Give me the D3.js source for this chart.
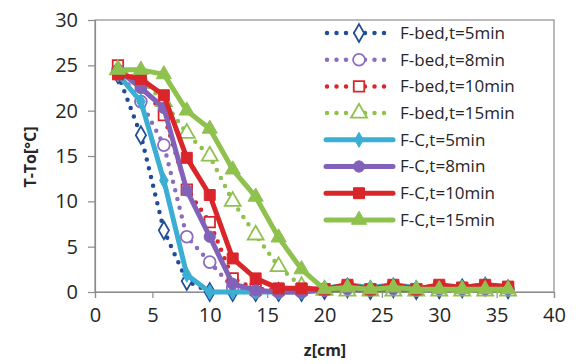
<!DOCTYPE html>
<html><head><meta charset="utf-8">
<script src="https://cdn.jsdelivr.net/npm/d3@7"></script>
<style>
html,body{margin:0;padding:0;background:#fff;}
svg{display:block;font-family:"Open Sans",sans-serif;}
</style></head>
<body><svg id="c" width="576" height="364"></svg>
<script>
const z = [2,4,6,8,10,12,14,16,18,20,22,24,26,28,30,32,34,36];
const fbed5  = [24, 17.3, 6.8, 1.2, 0, 0, 0, 0, 0, 0.2, 0.4, 0.2, 0.4, 0.2, 0.3, 0.4, 0.6, 0.3];
const fbed8  = [24.5, 21, 16.2, 6.1, 3.3, 0.5, 0, 0, 0, 0.2, 0.4, 0.2, 0.4, 0.2, 0.3, 0.4, 0.4, 0.3];
const fbed10 = [25, 23, 19.5, 11.3, 7.7, 1.5, 0.3, 0.3, 0.3, 0.3, 0.5, 0.3, 0.5, 0.3, 0.5, 0.4, 0.5, 0.5];
const fbed15 = [24.5, 23.5, 21, 17.5, 15, 10, 6.3, 2.8, 0.6, 0.2, 0.1, 0.1, 0.1, 0.1, 0.1, 0.1, 0.1, 0.1];
const fc5  = [24, 21, 12.3, 1.9, 0, 0, 0, 0, 0, 0.4, 0.8, 0.5, 0.8, 0.5, 0.5, 0.5, 0.8, 0.3];
const fc8  = [24.5, 22.5, 20.3, 11.2, 6.1, 0.9, 0.2, 0, 0, 0.2, 0.3, 0.2, 0.3, 0.2, 0.3, 0.3, 0.3, 0.3];
const fc10 = [24, 23.5, 21.7, 14.8, 10.7, 3.7, 1.5, 0.4, 0.4, 0.3, 0.8, 0.3, 0.8, 0.3, 0.8, 0.5, 0.8, 0.6];
const fc15 = [24.5, 24.5, 24, 20, 18, 13.5, 10.5, 6, 2.5, 0.3, 0.5, 0.3, 0.5, 0.3, 0.3, 0.3, 0.3, 0.3];
const seriesNames = ["F-bed,t=5min","F-bed,t=8min","F-bed,t=10min","F-bed,t=15min","F-C,t=5min","F-C,t=8min","F-C,t=10min","F-C,t=15min"];
const xTicks = [0,5,10,15,20,25,30,35,40];
const yTicks = [0,5,10,15,20,25,30];

const series = [
  {name:seriesNames[0], v:fbed5,  color:"#1f4e96", dotted:true,  sym:d3.symbolDiamond, size:90},
  {name:seriesNames[1], v:fbed8,  color:"#8a6cc0", dotted:true,  sym:d3.symbolCircle,  size:110},
  {name:seriesNames[2], v:fbed10, color:"#d9262b", dotted:true,  sym:d3.symbolSquare,  size:110},
  {name:seriesNames[3], v:fbed15, color:"#8fc14f", dotted:true,  sym:d3.symbolTriangle,size:110},
  {name:seriesNames[4], v:fc5,    color:"#3aaed3", dotted:false, sym:d3.symbolDiamond, size:65},
  {name:seriesNames[5], v:fc8,    color:"#8262b8", dotted:false, sym:d3.symbolCircle,  size:100},
  {name:seriesNames[6], v:fc10,   color:"#d9262b", dotted:false, sym:d3.symbolSquare,  size:120},
  {name:seriesNames[7], v:fc15,   color:"#8fc14f", dotted:false, sym:d3.symbolTriangle,size:100}
];

const svg = d3.select("#c");
const L=95, R=554, T=20, B=292;
const x = d3.scaleLinear().domain([0,40]).range([L,R]);
const y = d3.scaleLinear().domain([0,30]).range([B,T]);

// plot box
svg.append("rect").attr("x",L).attr("y",T).attr("width",R-L).attr("height",B-T)
  .attr("fill","none").attr("stroke","#8c8c8c").attr("stroke-width",1.2);

const xAxis = svg.append("g").attr("transform",`translate(0,${B})`)
  .call(d3.axisBottom(x).tickValues(xTicks).tickSize(6).tickPadding(10));
const yAxis = svg.append("g").attr("transform",`translate(${L},0)`)
  .call(d3.axisLeft(y).tickValues(yTicks).tickSize(7).tickPadding(10));
[xAxis,yAxis].forEach(a=>{
  a.select(".domain").attr("stroke","#8c8c8c").attr("stroke-width",1.2);
  a.selectAll(".tick line").attr("stroke","#8c8c8c").attr("stroke-width",1.2);
  a.selectAll("text").attr("font-family","Open Sans, sans-serif").attr("font-size",20).attr("fill","#262626");
});

svg.append("text").attr("x",325).attr("y",356).attr("text-anchor","middle")
  .attr("font-size",16).attr("font-weight","bold").attr("fill","#262626").text("z[cm]");
svg.append("text").attr("transform","translate(36,157) rotate(-90)").attr("text-anchor","middle")
  .attr("font-size",16).attr("font-weight","bold").attr("fill","#262626").text("T-To[°C]");

const line = d3.line().x((d,i)=>x(z[i])).y(d=>y(d));
function styleLine(sel, s){
  sel.attr("fill","none").attr("stroke",s.color).attr("stroke-width", s.dotted?4.5:5)
    .attr("stroke-linecap","round").attr("stroke-linejoin","round");
  if(s.dotted) sel.attr("stroke-dasharray","0 9");
}
function drawMarker(sel, s){
  sel.attr("d", d3.symbol(s.sym, s.size)())
    .attr("fill", s.dotted? "#ffffff":s.color)
    .attr("stroke", s.color).attr("stroke-width", s.dotted?1.8:1);
}
series.forEach(s=>{
  const g = svg.append("g");
  styleLine(g.append("path").datum(s.v).attr("d",line), s);
  g.selectAll("path.m").data(s.v).enter().append("path").attr("class","m")
    .attr("transform",(d,i)=>`translate(${x(z[i])},${y(d)})`)
    .call(drawMarker, s);
});

// legend
const lg = svg.append("g");
lg.append("rect").attr("x",318).attr("y",22).attr("width",200).attr("height",214).attr("fill","#fff");
series.forEach((s,i)=>{
  const yy = 33 + i*26.7;
  if(s.dotted){
    lg.append("path").attr("d",`M327,${yy}H393`).call(sel=>styleLine(sel,s)).attr("stroke-dasharray","0 9.5");
  } else {
    lg.append("path").attr("d",`M326,${yy}H393`).call(sel=>styleLine(sel,s));
  }
  lg.append("path").attr("transform",`translate(359,${yy})`).call(drawMarker,s);
  lg.append("text").attr("x",400).attr("y",yy).attr("dy","0.35em").attr("font-size",17)
    .attr("fill","#262626").text(s.name);
});
</script></body></html>
